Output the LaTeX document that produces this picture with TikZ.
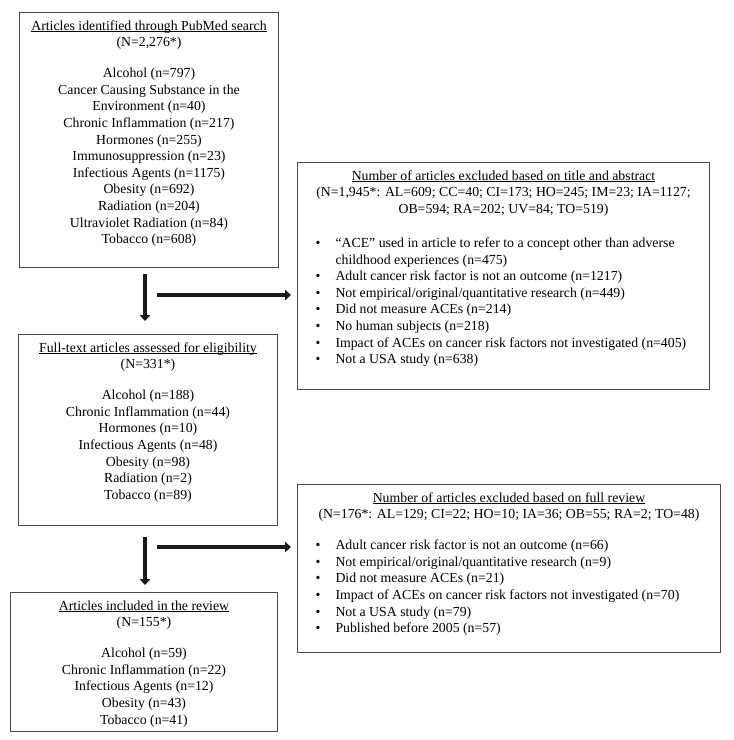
\documentclass[tikz,border=0pt]{standalone}
\usepackage{fontspec}
\setmainfont{Liberation Serif}
\usepackage{enumitem}
\usetikzlibrary{arrows.meta,positioning,calc}

\newcommand{\boxtitle}[1]{\underline{\smash{#1}}}

\begin{document}
\begin{tikzpicture}[x=1pt,y=-1pt,
    flowbox/.style={draw=black!70,line width=1pt,inner sep=0pt,anchor=north west,
      font=\fontsize{13.8pt}{16.6pt}\selectfont},
    flowarrow/.style={line width=3.6pt,black!90,-{Triangle[length=6pt,width=10.5pt]}}]
  \useasboundingbox (0,0) rectangle (734,740);

  % main column
  \node[flowbox] (idbox) at (19,12) {\parbox[t][255pt][t]{259pt}{\centering\vspace*{6pt}%
    \strut\boxtitle{Articles identified through PubMed search}\\
    (N=2,276*)\\[14.4pt]
    Alcohol (n=797)\\
    Cancer Causing Substance in the\\
    Environment (n=40)\\
    Chronic Inflammation (n=217)\\
    Hormones (n=255)\\
    Immunosuppression (n=23)\\
    Infectious Agents (n=1175)\\
    Obesity (n=692)\\
    Radiation (n=204)\\
    Ultraviolet Radiation (n=84)\\
    Tobacco (n=608)}};

  \node[flowbox] (fullbox) at (18,334) {\parbox[t][191pt][t]{259pt}{\centering\vspace*{6pt}%
    \strut\boxtitle{Full-text articles assessed for eligibility}\\
    (N=331*)\\[14.4pt]
    Alcohol (n=188)\\
    Chronic Inflammation (n=44)\\
    Hormones (n=10)\\
    Infectious Agents (n=48)\\
    Obesity (n=98)\\
    Radiation (n=2)\\
    Tobacco (n=89)}};

  \node[flowbox] (inclbox) at (10,592) {\parbox[t][139pt][t]{267pt}{\centering\vspace*{6pt}%
    \strut\boxtitle{Articles included in the review}\\
    (N=155*)\\[14.4pt]
    Alcohol (n=59)\\
    Chronic Inflammation (n=22)\\
    Infectious Agents (n=12)\\
    Obesity (n=43)\\
    Tobacco (n=41)}};

  % exclusion boxes
  \node[flowbox] (exclbox) at (297,162) {\parbox[t][227pt][t]{412pt}{\vspace*{6pt}%
    {\centering\strut\boxtitle{Number of articles excluded based on title and abstract}\\
    (N=1,945*: AL=609; CC=40; CI=173; HO=245; IM=23; IA=1127;\\
    OB=594; RA=202; UV=84; TO=519)\par}
    \raggedright
    \begin{itemize}[leftmargin=38pt,labelsep=15pt,itemsep=0pt,parsep=0pt,topsep=17.5pt,partopsep=0pt]
      \item ``ACE'' used in article to refer to a concept other than adverse\\
        childhood experiences (n=475)
      \item Adult cancer risk factor is not an outcome (n=1217)
      \item Not empirical/original/quantitative research (n=449)
      \item Did not measure ACEs (n=214)
      \item No human subjects (n=218)
      \item Impact of ACEs on cancer risk factors not investigated (n=405)
      \item Not a USA study (n=638)
    \end{itemize}}};

  \node[flowbox] (fullexcl) at (297,484) {\parbox[t][168pt][t]{423pt}{\vspace*{6pt}%
    {\centering\strut\boxtitle{Number of articles excluded based on full review}\\
    (N=176*: AL=129; CI=22; HO=10; IA=36; OB=55; RA=2; TO=48)\par}
    \raggedright
    \begin{itemize}[leftmargin=38pt,labelsep=15pt,itemsep=0pt,parsep=0pt,topsep=14.4pt,partopsep=0pt]
      \item Adult cancer risk factor is not an outcome (n=66)
      \item Not empirical/original/quantitative research (n=9)
      \item Did not measure ACEs (n=21)
      \item Impact of ACEs on cancer risk factors not investigated (n=70)
      \item Not a USA study (n=79)
      \item Published before 2005 (n=57)
    \end{itemize}}};

  % arrows
  \coordinate (split1) at (145,274);
  \coordinate (branch1) at (157,295);
  \coordinate (split2) at (145,537);
  \coordinate (branch2) at (157,547);
  \draw[flowarrow,shorten >=13pt] (split1) -- (split1 |- fullbox.north);
  \draw[flowarrow,shorten >=6pt] (branch1) -- (branch1 -| exclbox.west);
  \draw[flowarrow,shorten >=7pt] (split2) -- (split2 |- inclbox.north);
  \draw[flowarrow,shorten >=6pt] (branch2) -- (branch2 -| fullexcl.west);
\end{tikzpicture}
\end{document}
